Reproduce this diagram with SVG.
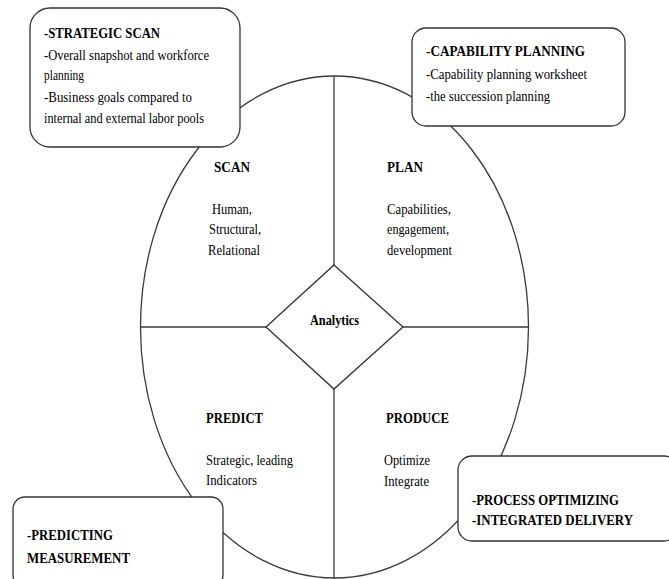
<svg xmlns="http://www.w3.org/2000/svg" width="669" height="579" viewBox="0 0 669 579">
<style>
.ln{fill:none;stroke:#3a3a3a;stroke-width:1.3}
.bx{fill:#fff;stroke:#333;stroke-width:1.3}
text{font-family:"Liberation Serif","Times New Roman",serif;fill:#000;font-size:14px}
.b{font-weight:bold}
.bb{font-weight:bold;font-size:15px}
</style>
<rect width="669" height="579" fill="#fff"/>
<g id="wheel">
<ellipse class="ln" cx="334.5" cy="327" rx="194" ry="251"/>
</g>
<g id="connectors">
<line class="ln" x1="334" y1="76" x2="334" y2="265"/>
<line class="ln" x1="334" y1="389" x2="334" y2="579"/>
<line class="ln" x1="141" y1="327" x2="266" y2="327"/>
<line class="ln" x1="403" y1="327" x2="528" y2="327"/>
</g>
<g id="analytics">
<polygon class="bx" points="334,265 403,327 334,389 266,327"/>
<text class="b" x="310" y="325" textLength="49" lengthAdjust="spacingAndGlyphs">Analytics</text>
</g>
<g id="scan">
<text class="b" x="214" y="172" textLength="36" lengthAdjust="spacingAndGlyphs">SCAN</text>
<text x="212" y="214" textLength="40" lengthAdjust="spacingAndGlyphs">Human,</text>
<text x="209" y="234" textLength="52" lengthAdjust="spacingAndGlyphs">Structural,</text>
<text x="208" y="255" textLength="52" lengthAdjust="spacingAndGlyphs">Relational</text>
</g>
<g id="plan">
<text class="b" x="387" y="172" textLength="36" lengthAdjust="spacingAndGlyphs">PLAN</text>
<text x="387" y="214" textLength="64" lengthAdjust="spacingAndGlyphs">Capabilities,</text>
<text x="387" y="234" textLength="62" lengthAdjust="spacingAndGlyphs">engagement,</text>
<text x="387" y="255" textLength="65" lengthAdjust="spacingAndGlyphs">development</text>
</g>
<g id="predict">
<text class="b" x="206" y="423" textLength="57" lengthAdjust="spacingAndGlyphs">PREDICT</text>
<text x="206" y="465" textLength="87" lengthAdjust="spacingAndGlyphs">Strategic, leading</text>
<text x="206" y="485" textLength="51" lengthAdjust="spacingAndGlyphs">Indicators</text>
</g>
<g id="produce">
<text class="b" x="386" y="423" textLength="63" lengthAdjust="spacingAndGlyphs">PRODUCE</text>
<text x="384" y="465" textLength="46" lengthAdjust="spacingAndGlyphs">Optimize</text>
<text x="384" y="486" textLength="45" lengthAdjust="spacingAndGlyphs">Integrate</text>
</g>
<g id="strategic-scan">
<rect class="bx" x="30" y="8" width="210" height="139" rx="20"/>
<text class="b" x="44" y="38" textLength="116" lengthAdjust="spacingAndGlyphs">-STRATEGIC SCAN</text>
<text x="44" y="60" textLength="165" lengthAdjust="spacingAndGlyphs">-Overall snapshot and workforce</text>
<text x="44" y="80" textLength="40" lengthAdjust="spacingAndGlyphs">planning</text>
<text x="44" y="102" textLength="148" lengthAdjust="spacingAndGlyphs">-Business goals compared to</text>
<text x="44" y="123" textLength="160" lengthAdjust="spacingAndGlyphs">internal and external labor pools</text>
</g>
<g id="capability-planning">
<rect class="bx" x="412" y="28" width="213" height="98" rx="14"/>
<text class="b" x="426" y="56" textLength="159" lengthAdjust="spacingAndGlyphs">-CAPABILITY PLANNING</text>
<text x="426" y="79" textLength="161" lengthAdjust="spacingAndGlyphs">-Capability planning worksheet</text>
<text x="426" y="101" textLength="124" lengthAdjust="spacingAndGlyphs">-the succession planning</text>
</g>
<g id="predicting-measurement">
<rect class="bx" x="13" y="497" width="210" height="90" rx="12"/>
<text class="bb" x="27" y="540" textLength="86" lengthAdjust="spacingAndGlyphs">-PREDICTING</text>
<text class="bb" x="27" y="563" textLength="103" lengthAdjust="spacingAndGlyphs">MEASUREMENT</text>
</g>
<g id="process-optimizing">
<rect class="bx" x="458" y="456" width="220" height="85" rx="14"/>
<text class="bb" x="472" y="505" textLength="147" lengthAdjust="spacingAndGlyphs">-PROCESS OPTIMIZING</text>
<text class="bb" x="472" y="525" textLength="161" lengthAdjust="spacingAndGlyphs">-INTEGRATED DELIVERY</text>
</g>
</svg>
